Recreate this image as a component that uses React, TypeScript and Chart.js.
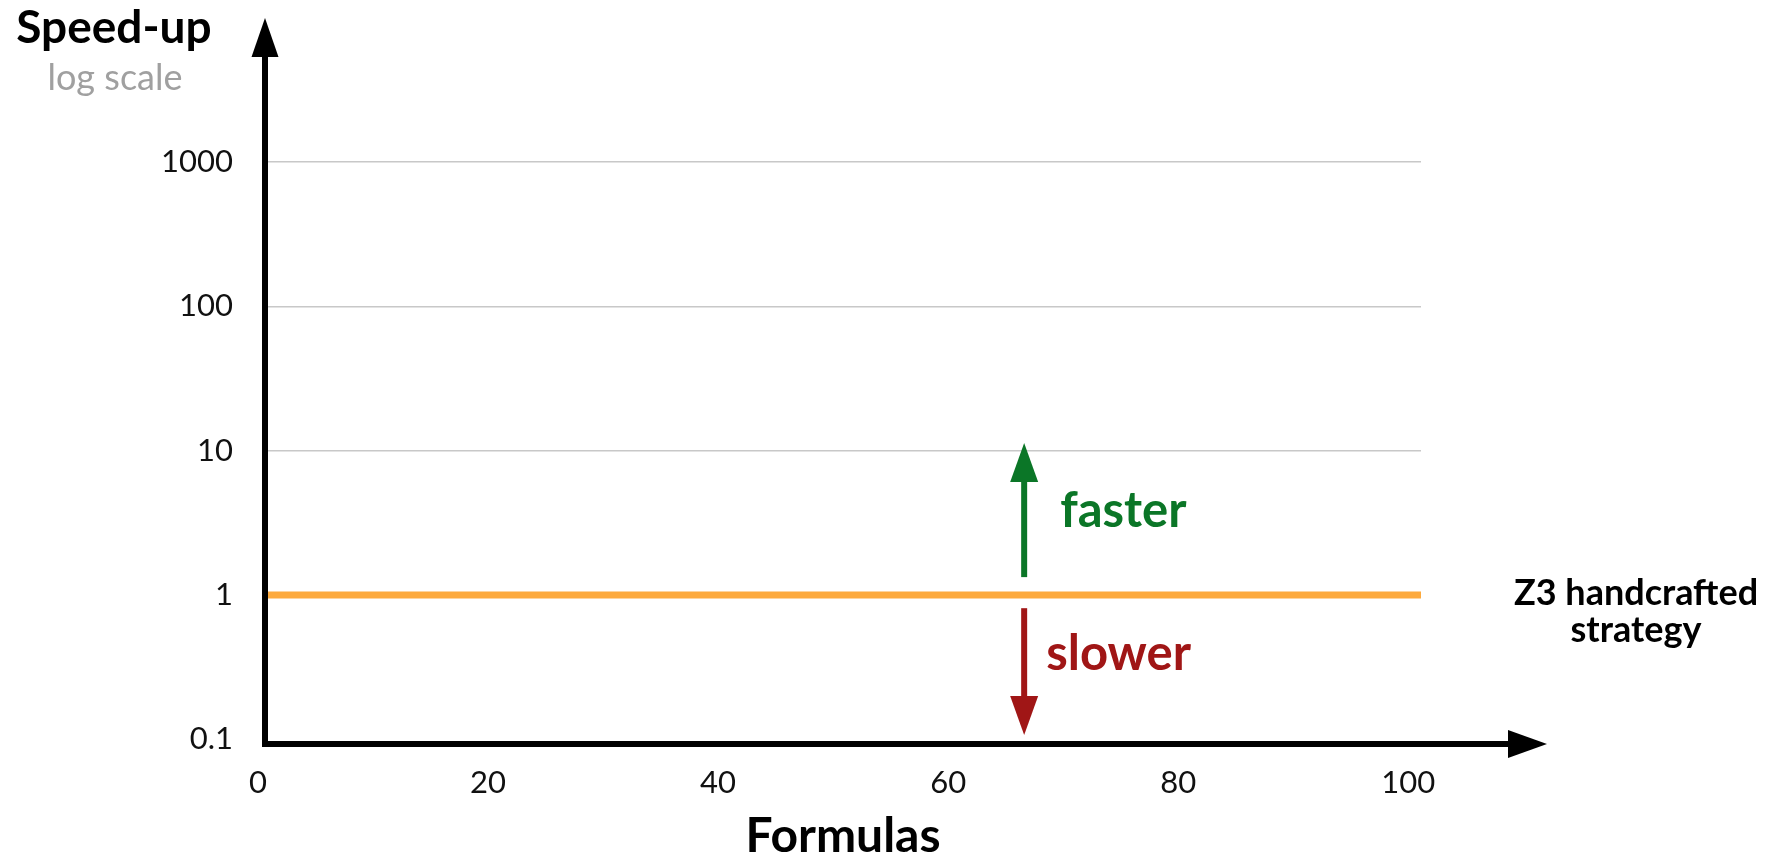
import React, { useEffect, useRef } from "react";
import { Chart, registerables } from "chart.js";

Chart.register(...registerables);

// ---- data ----
const xTicks = [0, 20, 40, 60, 80, 100];
const yTicks = [0.1, 1, 10, 100, 1000];
const baselineX = [0, 100.5];
const baselineY = [1, 1];
const xMin = 0;
const xMax = 100.5;
const yMin = 0.0928;
const yMax = 5090;
const arrowX = 66;
const fasterRange = [1.33, 11.3];
const slowerRange = [0.81, 0.107];
const yTitle = "Speed-up";
const ySubtitle = "log scale";
const xTitle = "Formulas";
const seriesLabel = ["Z3 handcrafted", "strategy"];
const fasterLabel = "faster";
const slowerLabel = "slower";

const FONT = "Lato";
const ORANGE = "#fdaa3e";
const GREEN = "#0b7627";
const RED = "#a01616";

const decorPlugin = {
  id: "decor",
  afterDraw(chart: any) {
    const { ctx, chartArea, scales } = chart;
    const x = scales.x;
    const y = scales.y;
    const L = chartArea.left;
    const B = chartArea.bottom;
    const T = chartArea.top;
    const R = chartArea.right;
    ctx.save();
    // main axes
    ctx.strokeStyle = "#000";
    ctx.fillStyle = "#000";
    ctx.lineWidth = 6;
    ctx.lineCap = "butt";
    ctx.beginPath();
    ctx.moveTo(L, B + 3);
    ctx.lineTo(L, T - 3);
    ctx.stroke();
    ctx.beginPath();
    ctx.moveTo(L, T - 42);
    ctx.lineTo(L - 13.5, T - 3);
    ctx.lineTo(L + 13.5, T - 3);
    ctx.closePath();
    ctx.fill();
    ctx.beginPath();
    ctx.moveTo(L - 3, B);
    ctx.lineTo(R + 87, B);
    ctx.stroke();
    ctx.beginPath();
    ctx.moveTo(R + 126, B);
    ctx.lineTo(R + 87, B - 14);
    ctx.lineTo(R + 87, B + 14);
    ctx.closePath();
    ctx.fill();

    // faster / slower arrows
    const px = x.getPixelForValue(arrowX);
    const drawArrow = (from: number, to: number, color: string) => {
      const y0 = y.getPixelForValue(from);
      const y1 = y.getPixelForValue(to);
      const dir = y1 < y0 ? -1 : 1;
      const head = 39;
      ctx.strokeStyle = color;
      ctx.fillStyle = color;
      ctx.lineWidth = 6;
      ctx.beginPath();
      ctx.moveTo(px, y0);
      ctx.lineTo(px, y1 - dir * head);
      ctx.stroke();
      ctx.beginPath();
      ctx.moveTo(px, y1);
      ctx.lineTo(px - 14, y1 - dir * head);
      ctx.lineTo(px + 14, y1 - dir * head);
      ctx.closePath();
      ctx.fill();
    };
    drawArrow(fasterRange[0], fasterRange[1], GREEN);
    drawArrow(slowerRange[0], slowerRange[1], RED);

    const one = y.getPixelForValue(1);
    ctx.textBaseline = "alphabetic";
    ctx.textAlign = "left";
    ctx.font = `bold 49px ${FONT}`;
    ctx.fillStyle = GREEN;
    ctx.fillText(fasterLabel, px + 36, one - 68);
    ctx.fillStyle = RED;
    ctx.fillText(slowerLabel, px + 22, one + 75);

    ctx.textAlign = "center";
    ctx.fillStyle = "#000";
    ctx.font = `bold 36px ${FONT}`;
    ctx.fillText(seriesLabel[0], R + 215, one + 10);
    ctx.fillText(seriesLabel[1], R + 215, one + 47);

    ctx.font = `bold 46px ${FONT}`;
    ctx.fillText(yTitle, 114, 43);
    ctx.font = `36px ${FONT}`;
    ctx.fillStyle = "#a0a0a0";
    ctx.fillText(ySubtitle, 115, 90);

    ctx.fillStyle = "#000";
    ctx.font = `bold 48px ${FONT}`;
    ctx.fillText(xTitle, (L + R) / 2, 852);
    ctx.restore();
  },
};

export default function App() {
  const ref = useRef<HTMLCanvasElement>(null);
  useEffect(() => {
    document.body.style.margin = "0";
    const canvas = ref.current;
    if (!canvas) return;
    const chart = new Chart(canvas, {
      type: "line",
      data: {
        datasets: [
          {
            label: seriesLabel.join(" "),
            data: baselineX.map((v, i) => ({ x: v, y: baselineY[i] })),
            borderColor: ORANGE,
            borderWidth: 7,
            pointRadius: 0,
            borderCapStyle: "butt",
          },
        ],
      },
      options: {
        animation: false,
        responsive: false,
        devicePixelRatio: 1,
        layout: { padding: { left: 0, right: 347, top: 60, bottom: 0 } },
        plugins: { legend: { display: false }, tooltip: { enabled: false } },
        scales: {
          x: {
            type: "linear",
            min: xMin,
            max: xMax,
            afterFit: (s: any) => {
              s.height = 110;
            },
            afterBuildTicks: (s: any) => {
              s.ticks = xTicks.map((v) => ({ value: v }));
            },
            grid: { display: false, drawTicks: false },
            border: { display: false },
            ticks: {
              padding: 20,
              labelOffset: -7,
              color: "#111",
              font: { family: FONT, size: 31 },
              maxRotation: 0,
              autoSkip: false,
            },
          },
          y: {
            type: "logarithmic",
            min: yMin,
            max: yMax,
            afterFit: (s: any) => {
              s.width = 265;
            },
            afterBuildTicks: (s: any) => {
              s.ticks = yTicks.map((v) => ({ value: v }));
            },
            grid: {
              drawTicks: false,
              lineWidth: 1.5,
              color: (c: any) => (c.tick && c.tick.value < 0.5 ? "rgba(0,0,0,0)" : "#c8c8c8"),
            },
            border: { display: false },
            ticks: {
              padding: 32,
              color: "#111",
              font: { family: FONT, size: 31 },
              autoSkip: false,
              callback: (v: any) => String(v),
            },
          },
        },
      },
      plugins: [decorPlugin],
    });
    return () => chart.destroy();
  }, []);
  return (
    <div style={{ position: "absolute", left: 0, top: 0, width: 1768, height: 854 }}>
      <canvas ref={ref} width={1768} height={854} />
    </div>
  );
}
